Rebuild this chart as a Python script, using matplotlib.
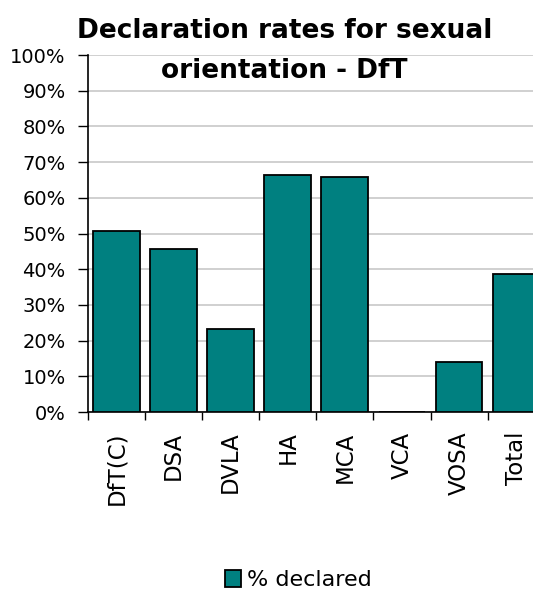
import numpy as np
import matplotlib
matplotlib.use('Agg')
import matplotlib.pyplot as plt
from matplotlib.ticker import FuncFormatter, MultipleLocator

# data
categories = ['DfT(C)', 'DSA', 'DVLA', 'HA', 'MCA', 'VCA', 'VOSA', 'Total']
declared = [50.8, 45.8, 23.2, 66.3, 65.9, 0.0, 14.0, 38.6]

teal = '#008080'

fig = plt.figure(figsize=(5.33, 5.92), dpi=100)
ax = fig.add_axes([0.165, 0.304, 0.857, 0.603])

x = np.arange(len(categories))
ax.bar(x, declared, width=0.82, color=teal, edgecolor='black', linewidth=1.3,
       label='% declared', zorder=3)

ax.set_xlim(-0.5, len(categories) - 0.5)
ax.set_ylim(0, 100)
ax.yaxis.set_major_locator(MultipleLocator(10))
ax.yaxis.set_major_formatter(FuncFormatter(lambda v, p: f'{v:.0f}%'))
ax.grid(axis='y', color='#c8c8c8', linewidth=1.2, zorder=0)

# ticks between categories, labels centred under bars
ax.set_xticks(np.arange(len(categories) + 1) - 0.5)
ax.set_xticklabels([])
ax.set_xticks(x, minor=True)
ax.set_xticklabels(categories, minor=True, rotation=90, fontsize=16.5)
ax.tick_params(axis='x', which='minor', length=0, pad=14)
ax.tick_params(axis='x', which='major', length=6, width=1, direction='out')
ax.tick_params(axis='y', length=7, width=1, direction='out', labelsize=14, pad=9)

for s in ['top', 'right']:
    ax.spines[s].set_visible(False)
ax.spines['left'].set_linewidth(1.2)
ax.spines['bottom'].set_linewidth(1.2)

fig.text(285 / 533, 1 - 38 / 592, 'Declaration rates for sexual',
         ha='center', va='baseline', fontsize=19, fontweight='bold')
fig.text(284 / 533, 1 - 78 / 592, 'orientation - DfT',
         ha='center', va='baseline', fontsize=19, fontweight='bold')

fig.legend(loc='center', bbox_to_anchor=(0.56, 0.02), frameon=False,
           fontsize=16, handlelength=0.7, handleheight=0.8, handletextpad=0.3)

fig.savefig('out.png', dpi=100)
